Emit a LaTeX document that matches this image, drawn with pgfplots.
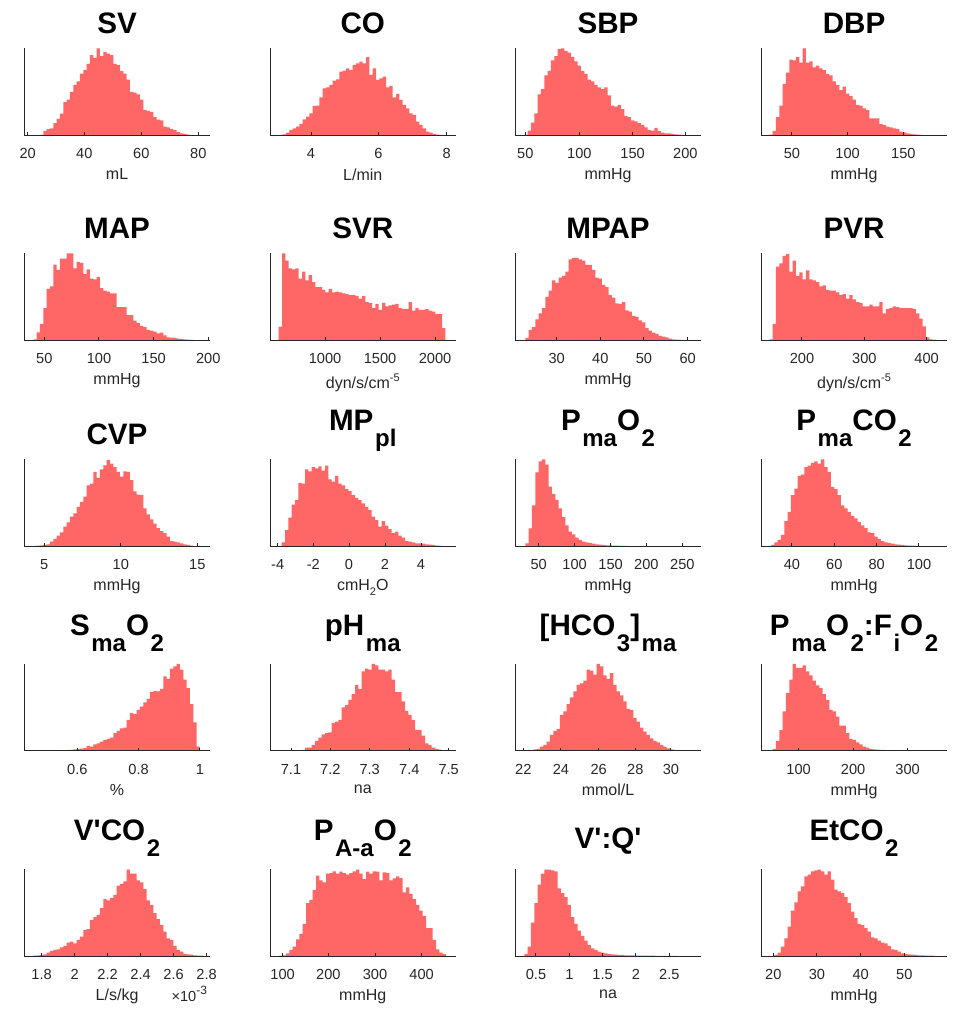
\documentclass[border=0pt]{standalone}
\usepackage{pgfplots}
\pgfplotsset{compat=1.18}
\usepackage{fontspec}
\setmainfont{Liberation Sans}
\definecolor{histc}{RGB}{255,102,102}
\definecolor{axc}{RGB}{38,38,38}
\newcommand{\sub}[1]{\kern0.8pt\raisebox{-8pt}[0pt][7pt]{\fontsize{12}{12}\selectfont #1}}
\newcommand{\supx}[1]{\raisebox{3.4pt}{\fontsize{5.5}{5.5}\selectfont #1}}
\newcommand{\supe}[1]{\raisebox{3.6pt}{\fontsize{6}{6}\selectfont #1}}
\newcommand{\subx}[1]{\raisebox{-2.2pt}{\fontsize{5.5}{5.5}\selectfont #1}}
\pgfplotsset{
  hist/.style={
    scale only axis, width=92.75pt, height=43.5pt,
    anchor=south west,
    xmin=0, xmax=55.65, ymin=0, ymax=100,
    axis x line*=bottom, axis y line*=left,
    axis line style={-, line width=0.5pt, draw=axc},
    ytick=\empty,
    tick align=inside,
    major tick length=1.5pt,
    every tick/.style={axc, line width=0.5pt},
    xticklabel style={font=\fontsize{7.3}{7.3}\selectfont, text=axc, inner sep=0pt, yshift=-6.5pt},
    title style={font=\bfseries\fontsize{14.8}{14.8}\selectfont, anchor=south, at={(axis description cs:0.5,1)}, yshift=1pt, inner sep=0pt},
    xlabel style={font=\fontsize{8}{8}\selectfont, text=axc, at={(axis description cs:0.5,0)}, anchor=north, yshift=-16.5pt, inner sep=0pt},
    axis on top,
  },
  bars/.style={const plot, fill=histc, draw=none},
}
\begin{document}
\begin{tikzpicture}
\useasboundingbox (0,0) rectangle (486pt,505.5pt);
% Row 1
\begin{axis}[hist, at={(12.15pt,437.85pt)}, title={SV}, xlabel={mL}, xtick={1.0,18.0,35.1,52.2}, xticklabels={20,40,60,80}]
\addplot[bars] coordinates {(4.7,0.5)(5.7,5)(6.7,7)(7.7,8)(8.7,14)(9.7,19)(10.7,25)(11.7,38)(12.7,41)(13.7,50)(14.7,58)(15.7,62)(16.7,71)(17.7,75)(18.7,82)(19.7,92)(20.7,89)(21.7,100)(22.7,91)(23.7,96)(24.7,94)(25.7,92)(26.7,82)(27.7,81)(28.7,74)(29.7,71)(30.7,64)(31.7,50)(32.7,49)(33.7,47)(34.7,41)(35.7,29)(36.7,28)(37.7,27)(38.7,21)(39.7,18)(40.7,17)(41.7,10)(42.7,9)(43.7,7)(44.7,6)(45.7,3.5)(46.7,2.3)(47.7,1.5)(48.7,0.8)(49.7,0.8)} \closedcycle;
\end{axis}
\begin{axis}[hist, at={(135pt,437.85pt)}, title={CO}, xlabel={L/min}, xtick={12.3,32.5,53.0}, xticklabels={4,6,8}]
\addplot[bars] coordinates {(2.8,0.4)(3.8,1.1)(4.8,3)(5.8,6.1)(6.8,8)(7.8,10)(8.8,13)(9.8,18.4)(10.8,21.5)(11.8,25.3)(12.8,33.7)(13.8,34)(14.8,43.7)(15.8,54)(16.8,55.2)(17.8,57.9)(18.8,62.8)(19.8,64.4)(20.8,73.2)(21.8,74.3)(22.8,77)(23.8,75)(24.8,80.8)(25.8,82.8)(26.8,84.7)(27.8,82.8)(28.8,89.7)(29.8,69.3)(30.8,77)(31.8,63.6)(32.8,65.5)(33.8,67.4)(34.8,55.2)(35.8,56.7)(36.8,43.7)(37.8,47.5)(38.8,40.6)(39.8,34.9)(40.8,31)(41.8,25.3)(42.8,23.4)(43.8,15.7)(44.8,11.9)(45.8,8)(46.8,4.2)(47.8,3.1)(48.8,1.5)(49.8,0.8)(50.8,0.4)(51.8,0.3)(52.8,0.3)} \closedcycle;
\end{axis}
\begin{axis}[hist, at={(257.65pt,437.85pt)}, title={SBP}, xlabel={mmHg}, xtick={3.0,19.2,35.2,51.0}, xticklabels={50,100,150,200}]
\addplot[bars] coordinates {(2.7,0.8)(3.7,5.4)(4.7,14.6)(5.7,25.3)(6.7,47)(7.7,53)(8.7,69)(9.7,74)(10.7,86)(11.7,91)(12.7,99)(13.7,100)(14.7,97)(15.7,95)(16.7,90)(17.7,85)(18.7,80)(19.7,74)(20.7,70.5)(21.7,64)(22.7,62)(23.7,58)(24.7,55)(25.7,53)(26.7,55)(27.7,46)(28.7,34)(29.7,33)(30.7,35)(31.7,30)(32.7,22)(33.7,21)(34.7,17)(35.7,16)(36.7,14)(37.7,12)(38.7,9)(39.7,6)(40.7,5.4)(41.7,8.4)(42.7,5)(43.7,3)(44.7,2.3)(45.7,2.3)(46.7,1.5)(47.7,1.1)(48.7,0.8)(49.7,0.4)(50.7,0.4)} \closedcycle;
\end{axis}
\begin{axis}[hist, at={(380.65pt,437.85pt)}, title={DBP}, xlabel={mmHg}, xtick={9.2,25.9,42.6}, xticklabels={50,100,150}]
\addplot[bars] coordinates {(2.4,0.8)(3.4,5)(4.4,21)(5.4,34)(6.4,59)(7.4,72)(8.4,87)(9.4,86)(10.4,90)(11.4,83.5)(12.4,100)(13.4,83.5)(14.4,85)(15.4,78)(16.4,80)(17.4,77)(18.4,75)(19.4,70.5)(20.4,69)(21.4,62)(22.4,58)(23.4,52)(24.4,56)(25.4,48)(26.4,45)(27.4,41)(28.4,35)(29.4,34)(30.4,31)(31.4,29)(32.4,19.5)(33.4,19.5)(34.4,19.5)(35.4,13)(36.4,12)(37.4,10)(38.4,9)(39.4,8)(40.4,7.3)(41.4,4.2)(42.4,3.4)(43.4,2.3)(44.4,1.5)(45.4,1.1)(46.4,0.8)(47.4,0.4)(48.4,0.4)} \closedcycle;
\end{axis}
% Row 2
\begin{axis}[hist, at={(12.15pt,335.35pt)}, title={MAP}, xlabel={mmHg}, xtick={6.0,22.4,38.8,55.2}, xticklabels={50,100,150,200}]
\addplot[bars] coordinates {(2.7,1)(3.7,9)(4.7,19)(5.7,37)(6.7,59)(7.7,62)(8.7,87)(9.7,81)(10.7,94)(11.7,94)(12.7,100)(13.7,100)(14.7,82.7)(15.7,90)(16.7,89)(17.7,76)(18.7,81.6)(19.7,71)(20.7,70)(21.7,73)(22.7,60)(23.7,57)(24.7,56)(25.7,54)(26.7,54)(27.7,38)(28.7,38)(29.7,38)(30.7,29)(31.7,29)(32.7,22.6)(33.7,20)(34.7,16.5)(35.7,15)(36.7,12)(37.7,11)(38.7,10)(39.7,8)(40.7,8.8)(41.7,5.7)(42.7,3.4)(43.7,3)(44.7,2.7)(45.7,1.9)(46.7,1.5)(47.7,1.1)(48.7,0.8)(49.7,0.4)(50.7,0.4)} \closedcycle;
\end{axis}
\begin{axis}[hist, at={(135pt,335.35pt)}, title={SVR}, xlabel={dyn/s/cm\supx{-5}}, xtick={16.5,33.0,49.5}, xticklabels={1000,1500,2000}]
\addplot[bars] coordinates {(2.6,15.7)(3.6,100)(4.6,91.6)(5.6,82.8)(6.6,81.6)(7.6,82.8)(8.6,71)(9.6,79)(10.6,69)(11.6,75)(12.6,67)(13.6,61)(14.6,61)(15.6,58)(16.6,55)(17.6,59)(18.6,55)(19.6,56)(20.6,55)(21.6,54)(22.6,53)(23.6,52)(24.6,52)(25.6,51)(26.6,48)(27.6,51)(28.6,44)(29.6,43)(30.6,37)(31.6,42)(32.6,35)(33.6,43)(34.6,39)(35.6,40)(36.6,41)(37.6,42)(38.6,37)(39.6,36)(40.6,36)(41.6,44)(42.6,34)(43.6,37)(44.6,35)(45.6,35)(46.6,36)(47.6,34)(48.6,33)(49.6,30)(50.6,30)(51.6,14)(52.6,14)} \closedcycle;
\end{axis}
\begin{axis}[hist, at={(257.65pt,335.35pt)}, title={MPAP}, xlabel={mmHg}, xtick={12.4,25.5,38.6,51.7}, xticklabels={30,40,50,60}]
\addplot[bars] coordinates {(3,2.7)(4,12)(5,15)(6,24)(7,31)(8,37)(9,50)(10,57)(11,69)(12,66)(13,72)(14,74)(15,79)(16,93)(17,94.6)(18,94.6)(19,93)(20,91.6)(21,86.6)(22,86.6)(23,81)(24,72)(25,71)(26,63.6)(27,61)(28,52)(29,49)(30,42.5)(31,42)(32,44)(33,34.5)(34,33)(35,28)(36,27)(37,23)(38,20.7)(39,14)(40,11)(41,8.8)(42,7.3)(43,5)(44,4.2)(45,3.4)(46,1.9)(47,1.1)(48,0.8)(49,0.4)(50,0.4)(51,0.4)} \closedcycle;
\end{axis}
\begin{axis}[hist, at={(380.65pt,335.35pt)}, title={PVR}, xlabel={dyn/s/cm\supx{-5}}, xtick={12.2,30.9,49.6}, xticklabels={200,300,400}]
\addplot[bars] coordinates {(2.4,1)(3.4,19)(4.4,84.7)(5.4,88.5)(6.4,97)(7.4,99)(8.4,79)(9.4,91.6)(10.4,74)(11.4,78)(12.4,70)(13.4,80.5)(14.4,70)(15.4,69)(16.4,67)(17.4,62)(18.4,63)(19.4,58)(20.4,57)(21.4,57)(22.4,55)(23.4,52)(24.4,53)(25.4,48)(26.4,52)(27.4,47)(28.4,44)(29.4,43)(30.4,39)(31.4,39)(32.4,41)(33.4,39)(34.4,39)(35.4,44)(36.4,31)(37.4,36)(38.4,37)(39.4,39)(40.4,38)(41.4,37)(42.4,37)(43.4,37)(44.4,37)(45.4,36)(46.4,31)(47.4,25)(48.4,16)(49.4,3.4)(50.4,1)(51.4,0.8)(52.4,0.8)} \closedcycle;
\end{axis}
% Row 3
\begin{axis}[hist, at={(12.15pt,232.35pt)}, title={CVP}, xlabel={mmHg}, xtick={6.0,28.95,51.9}, xticklabels={5,10,15}]
\addplot[bars] coordinates {(2.7,0.4)(3.7,0.8)(4.7,1.1)(5.7,1.5)(6.7,2.3)(7.7,5.3)(8.7,8.4)(9.7,12.2)(10.7,16)(11.7,22.5)(12.7,27.5)(13.7,34)(14.7,37.8)(15.7,45.4)(16.7,51)(17.7,57)(18.7,70)(19.7,72)(20.7,85.5)(21.7,78.6)(22.7,88.5)(23.7,93)(24.7,99.2)(25.7,95)(26.7,91)(27.7,85.5)(28.7,80)(29.7,86)(30.7,85.5)(31.7,76)(32.7,63)(33.7,59.5)(34.7,59)(35.7,43.5)(36.7,36.6)(37.7,31)(38.7,26)(39.7,21)(40.7,17.5)(41.7,15)(42.7,11)(43.7,6)(44.7,5.3)(45.7,4.6)(46.7,3.4)(47.7,2.3)(48.7,1.5)(49.7,0.8)(50.7,0.8)} \closedcycle;
\end{axis}
\begin{axis}[hist, at={(135pt,232.35pt)}, title={MP\sub{pl}}, xlabel={cmH\subx{2}O}, xtick={2.3,13.0,23.7,34.5,45.3}, xticklabels={-4,-2,0,2,4}]
\addplot[bars] coordinates {(3.5,4.6)(4.5,18.7)(5.5,33)(6.5,48)(7.5,53)(8.5,73)(9.5,72)(10.5,88.5)(11.5,86)(12.5,91)(13.5,89.7)(14.5,92)(15.5,87)(16.5,92.7)(17.5,77)(18.5,74.4)(19.5,81)(20.5,72)(21.5,70)(22.5,65.6)(23.5,63.4)(24.5,58.8)(25.5,55.7)(26.5,53)(27.5,49.2)(28.5,45.4)(29.5,41.6)(30.5,34)(31.5,30)(32.5,22.5)(33.5,29)(34.5,23.7)(35.5,19.8)(36.5,15)(37.5,17)(38.5,12.2)(39.5,10)(40.5,6)(41.5,5.3)(42.5,4.6)(43.5,3.4)(44.5,3.4)(45.5,3)(46.5,2.3)(47.5,1.9)(48.5,1.5)(49.5,0.8)(50.5,0.4)(51.5,0.4)} \closedcycle;
\end{axis}
\begin{axis}[hist, at={(257.65pt,232.35pt)}, title={P\sub{ma}O\sub{2}}, xlabel={mmHg}, xtick={7.0,17.8,28.6,39.3,50.1}, xticklabels={50,100,150,200,250}]
\addplot[bars] coordinates {(3,3.4)(4,20.6)(5,47)(6,85)(7,97.7)(8,100)(9,93.9)(10,68.7)(11,60)(12,53.4)(13,43.5)(14,33.6)(15,24)(16,16.8)(17,13.7)(18,9.9)(19,7.3)(20,5.3)(21,4.6)(22,3.8)(23,3.1)(24,2.3)(25,1.9)(26,1.5)(27,1.1)(28,1.1)(29,0.8)(30,0.8)(31,0.4)(32,0.4)(33,0.4)(34,0.3)(35,0.3)(36,0.3)(37,0.2)(38,0.2)(39,0.2)(40,0.2)(41,0.2)(42,0.2)(43,0.1)(44,0.1)(45,0.1)(46,0.1)(47,0.1)(48,0.1)(49,0.1)(50,0.1)(51,0.1)} \closedcycle;
\end{axis}
\begin{axis}[hist, at={(380.65pt,232.35pt)}, title={P\sub{ma}CO\sub{2}}, xlabel={mmHg}, xtick={9.2,21.9,34.6,47.3}, xticklabels={40,60,80,100}]
\addplot[bars] coordinates {(2.9,1.5)(3.9,4.6)(4.9,7.3)(5.9,13)(6.9,29)(7.9,39.7)(8.9,58.8)(9.9,66.4)(10.9,81)(11.9,82.4)(12.9,91)(13.9,92.7)(14.9,95.8)(15.9,97.7)(16.9,95)(17.9,100)(18.9,91)(19.9,85.5)(20.9,68)(21.9,65.6)(22.9,58.8)(23.9,47)(24.9,43.5)(25.9,39.7)(26.9,35)(27.9,32)(28.9,28)(29.9,24)(30.9,21)(31.9,16)(32.9,15)(33.9,11)(34.9,8.4)(35.9,6)(36.9,4.6)(37.9,3.8)(38.9,3)(39.9,2.3)(40.9,1.9)(41.9,1.5)(42.9,1.1)(43.9,0.8)(44.9,0.8)(45.9,0.4)(46.9,0.4)} \closedcycle;
\end{axis}
% Row 4
\begin{axis}[hist, at={(12.15pt,130pt)}, title={S\sub{ma}O\sub{2}}, xlabel={\%}, xtick={15.9,34.3,52.7}, xticklabels={0.6,0.8,1}]
\addplot[bars] coordinates {(2.7,0.3)(3.7,0.3)(4.7,0.4)(5.7,0.4)(6.7,0.5)(7.7,0.8)(8.7,0.6)(9.7,0.7)(10.7,0.8)(11.7,1)(12.7,1.2)(13.7,1.4)(14.7,1.8)(15.7,2.3)(16.7,2.7)(17.7,3.2)(18.7,5.8)(19.7,5)(20.7,7.7)(21.7,8.8)(22.7,10.8)(23.7,12.7)(24.7,13.8)(25.7,15.4)(26.7,20.4)(27.7,23)(28.7,26)(29.7,27)(30.7,35.8)(31.7,43.5)(32.7,42.3)(33.7,47.3)(34.7,51)(35.7,56)(36.7,60)(37.7,67.7)(38.7,69)(39.7,68.5)(40.7,71.5)(41.7,85.8)(42.7,83)(43.7,94.6)(44.7,97.3)(45.7,100)(46.7,93.5)(47.7,82)(48.7,72.3)(49.7,53.8)(50.7,33)(51.7,5)(52.7,5)} \closedcycle;
\end{axis}
\begin{axis}[hist, at={(135pt,130pt)}, title={pH\sub{ma}}, xlabel={na}, xtick={6.3,18.1,29.9,41.8,53.6}, xticklabels={7.1,7.2,7.3,7.4,7.5}]
\addplot[bars] coordinates {(7.5,0.4)(8.5,0.8)(9.5,1.2)(10.5,3.8)(11.5,3.8)(12.5,6.9)(13.5,11.5)(14.5,15.4)(15.5,19.2)(16.5,20.4)(17.5,21.5)(18.5,32)(19.5,33.8)(20.5,35.8)(21.5,50)(22.5,53)(23.5,58.8)(24.5,65.4)(25.5,76)(26.5,71.5)(27.5,91.5)(28.5,94.6)(29.5,93.5)(30.5,100)(31.5,98.5)(32.5,93.5)(33.5,93.5)(34.5,91.5)(35.5,93.5)(36.5,82)(37.5,67.7)(38.5,67.7)(39.5,57)(40.5,46)(41.5,41.5)(42.5,35.8)(43.5,24.2)(44.5,24.2)(45.5,17.7)(46.5,8.8)(47.5,6.9)(48.5,3.8)(49.5,2.3)(50.5,1.5)(51.5,0.8)(52.5,0.4)(53.5,0.4)} \closedcycle;
\end{axis}
\begin{axis}[hist, at={(257.65pt,130pt)}, title={[HCO\sub{3}]\sub{ma}}, xlabel={mmol/L}, xtick={2.4,13.7,25.0,36.0,46.7}, xticklabels={22,24,26,28,30}]
\addplot[bars] coordinates {(2.4,0.4)(3.4,0.4)(4.4,0.8)(5.4,1.9)(6.4,2.3)(7.4,5)(8.4,6.9)(9.4,10.8)(10.4,18.5)(11.4,23)(12.4,25.4)(13.4,41.5)(14.4,45.4)(15.4,53.8)(16.4,61.5)(17.4,68.5)(18.4,76)(19.4,77.7)(20.4,80.8)(21.4,93.5)(22.4,92.3)(23.4,87.7)(24.4,100)(25.4,97.3)(26.4,86.9)(27.4,83)(28.4,89.6)(29.4,76)(30.4,68.5)(31.4,63.8)(32.4,56.9)(33.4,48.5)(34.4,47.3)(35.4,37.7)(36.4,33.8)(37.4,27)(38.4,22.3)(39.4,18.5)(40.4,14.6)(41.4,11.5)(42.4,10)(43.4,6.9)(44.4,5)(45.4,3)(46.4,1.9)(47.4,1.2)(48.4,0.8)(49.4,0.4)(50.4,0.4)(51.4,0.4)(52.4,0.4)} \closedcycle;
\end{axis}
\begin{axis}[hist, at={(380.65pt,130pt)}, title={P\sub{ma}O\sub{2}:F\sub{i}O\sub{2}}, xlabel={mmHg}, xtick={11.2,27.55,43.9}, xticklabels={100,200,300}]
\addplot[bars] coordinates {(2.4,0.4)(3.4,2.3)(4.4,11.5)(5.4,24)(6.4,45.4)(7.4,66.5)(8.4,82)(9.4,100)(10.4,95.4)(11.4,95.4)(12.4,98.5)(13.4,91.5)(14.4,87)(15.4,80.8)(16.4,75.4)(17.4,72.3)(18.4,65.4)(19.4,58.8)(20.4,47.3)(21.4,45.4)(22.4,39.6)(23.4,29.2)(24.4,29.2)(25.4,20.4)(26.4,13.8)(27.4,12.7)(28.4,10)(29.4,7.7)(30.4,5)(31.4,3.8)(32.4,2.3)(33.4,1.9)(34.4,1.5)(35.4,1.2)(36.4,1.2)(37.4,0.8)(38.4,0.8)(39.4,0.4)(40.4,0.4)(41.4,0.4)(42.4,0.3)(43.4,0.3)(44.4,0.2)(45.4,0.2)(46.4,0.2)(47.4,0.2)(48.4,0.1)(49.4,0.1)(50.4,0.1)(51.4,0.1)(52.4,0.1)} \closedcycle;
\end{axis}
% Row 5
\begin{axis}[hist, at={(12.15pt,27.5pt)}, title={V\textquotesingle CO\sub{2}}, xlabel={L/s/kg}, xtick={5.2,15.1,25.0,34.9,44.8,54.7}, xticklabels={1.8,2,2.2,2.4,2.6,2.8},
  after end axis/.append code={\node[anchor=base east, inner sep=0pt, font=\fontsize{7.3}{7.3}\selectfont, text=axc, xshift=-1.2pt, yshift=-22.85pt] at (rel axis cs:1,0) {×10\supe{-3}};}]
\addplot[bars] coordinates {(2.7,0.4)(3.7,0.8)(4.7,1.2)(5.7,1.9)(6.7,3.8)(7.7,6)(8.7,6.9)(9.7,7.7)(10.7,10)(11.7,11.5)(12.7,15.4)(13.7,16.5)(14.7,14.6)(15.7,18.5)(16.7,22.3)(17.7,30)(18.7,30.8)(19.7,41.5)(20.7,44.6)(21.7,47.3)(22.7,55)(23.7,65.4)(24.7,63.8)(25.7,66.5)(26.7,70.4)(27.7,80.8)(28.7,83)(29.7,85.8)(30.7,99.2)(31.7,94.6)(32.7,94.6)(33.7,86.9)(34.7,84.6)(35.7,76.9)(36.7,63.8)(37.7,58.8)(38.7,49.2)(39.7,42.3)(40.7,35.8)(41.7,28)(42.7,20.4)(43.7,18.5)(44.7,11.5)(45.7,6.9)(46.7,5)(47.7,2.3)(48.7,1.9)(49.7,1.5)(50.7,0.8)(51.7,0.4)(52.7,0.4)(53.7,0.4)} \closedcycle;
\end{axis}
\begin{axis}[hist, at={(135pt,27.5pt)}, title={P\sub{A-a}O\sub{2}}, xlabel={mmHg}, xtick={3.8,17.5,31.5,45.5}, xticklabels={100,200,300,400}]
\addplot[bars] coordinates {(2.8,0.4)(3.8,0.8)(4.8,3)(5.8,6.9)(6.8,10.8)(7.8,19.2)(8.8,25.4)(9.8,37)(10.8,60.8)(11.8,64.6)(12.8,76)(13.8,92.3)(14.8,86.9)(15.8,84.6)(16.8,94.6)(17.8,95.4)(18.8,97.3)(19.8,94.6)(20.8,96.9)(21.8,95.4)(22.8,93.5)(23.8,95.4)(24.8,97.3)(25.8,99.2)(26.8,94.6)(27.8,88.5)(28.8,96.9)(29.8,94.6)(30.8,97.3)(31.8,96.9)(32.8,86.9)(33.8,96.2)(34.8,95.4)(35.8,86.9)(36.8,89.2)(37.8,91.5)(38.8,89.6)(39.8,73)(40.8,79)(41.8,71.5)(42.8,65.4)(43.8,58.8)(44.8,52.3)(45.8,46)(46.8,32)(47.8,32)(48.8,18.5)(49.8,7.7)(50.8,3.8)(51.8,2.3)(52.8,2.3)} \closedcycle;
\end{axis}
\begin{axis}[hist, at={(257.65pt,27.5pt)}, title={V\textquotesingle:Q\textquotesingle}, xlabel={na}, xtick={6.2,16.2,26.2,36.2,46.2}, xticklabels={0.5,1,1.5,2,2.5}]
\addplot[bars] coordinates {(2.7,2.3)(3.7,10.8)(4.7,38.5)(5.7,60.8)(6.7,82)(7.7,94.6)(8.7,99.2)(9.7,99.2)(10.7,98.5)(11.7,97.3)(12.7,77.7)(13.7,72.3)(14.7,67.7)(15.7,58.8)(16.7,44.6)(17.7,37)(18.7,29.2)(19.7,23)(20.7,17.7)(21.7,12.7)(22.7,8.8)(23.7,6.9)(24.7,5)(25.7,3.8)(26.7,3)(27.7,2.3)(28.7,1.9)(29.7,1.5)(30.7,1.2)(31.7,1.2)(32.7,0.8)(33.7,0.8)(34.7,0.8)(35.7,0.4)(36.7,0.4)(37.7,0.4)(38.7,0.4)(39.7,0.3)(40.7,0.3)(41.7,0.2)(42.7,0.2)(43.7,0.2)(44.7,0.1)(45.7,0.1)(46.7,0.1)(47.7,0.1)(48.7,0.1)} \closedcycle;
\end{axis}
\begin{axis}[hist, at={(380.65pt,27.5pt)}, title={EtCO\sub{2}}, xlabel={mmHg}, xtick={3.6,16.7,29.8,42.9}, xticklabels={20,30,40,50}]
\addplot[bars] coordinates {(3.9,1.2)(4.9,3.8)(5.9,10.8)(6.9,20.4)(7.9,33.8)(8.9,52.3)(9.9,61.5)(10.9,74.2)(11.9,80)(12.9,91.5)(13.9,93.5)(14.9,97.3)(15.9,98.5)(16.9,99.2)(17.9,97.3)(18.9,93.5)(19.9,97.3)(20.9,87.7)(21.9,76.2)(22.9,74.2)(23.9,72.3)(24.9,67.7)(25.9,60.8)(26.9,51)(27.9,43.5)(28.9,36.9)(29.9,35.4)(30.9,32)(31.9,28)(32.9,21.5)(33.9,20.4)(34.9,17.7)(35.9,15.4)(36.9,14.6)(37.9,11.5)(38.9,7.7)(39.9,6.9)(40.9,5)(41.9,3)(42.9,2.3)(43.9,1.9)(44.9,1.5)(45.9,1.2)(46.9,0.8)(47.9,0.8)(48.9,0.4)(49.9,0.4)(50.9,0.4)(51.9,0.4)} \closedcycle;
\end{axis}
\end{tikzpicture}
\end{document}
